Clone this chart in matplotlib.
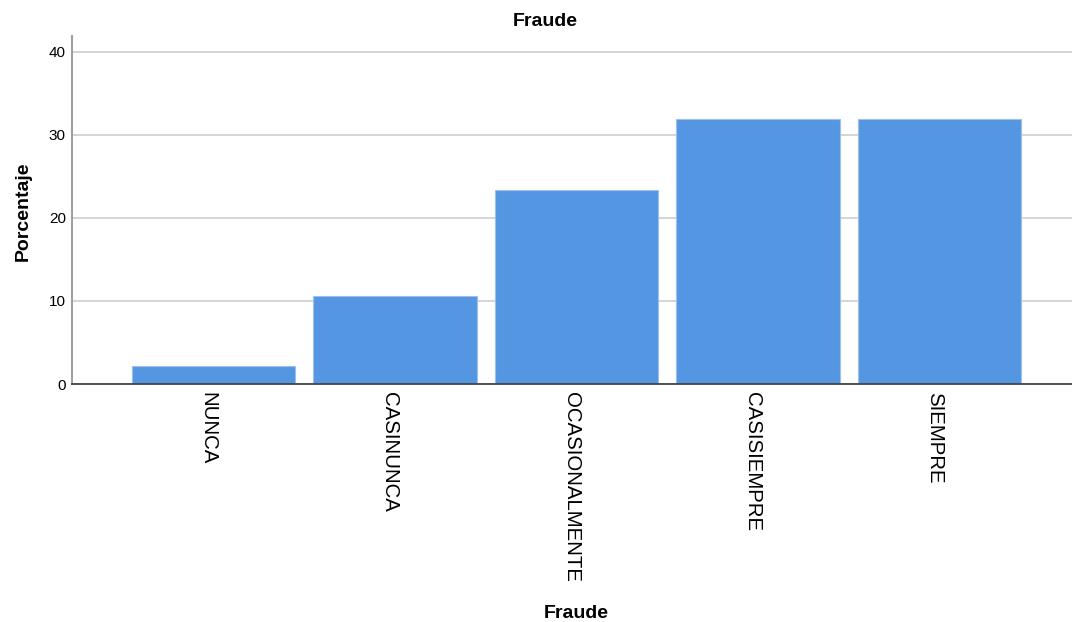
import matplotlib.pyplot as plt
import numpy as np

plt.rcParams['font.family'] = ['Liberation Sans', 'DejaVu Sans']

# Frecuencias de la variable Fraude (n = 47)
categorias = ['NUNCA', 'CASINUNCA', 'OCASIONALMENTE', 'CASISIEMPRE', 'SIEMPRE']
porcentajes = [2.13, 10.64, 23.40, 31.91, 31.91]
yticks = [0, 10, 20, 30, 40]

bar_color = '#5596e3'

fig = plt.figure(figsize=(10.72, 6.22), dpi=100)
ax = fig.add_axes([72 / 1072, 1 - 384 / 622, 1 - 72 / 1072, (384 - 36) / 622])

x = np.arange(len(categorias))
ax.bar(x, porcentajes, width=0.9, color=bar_color, edgecolor='#9cc0ee',
       linewidth=0.8, zorder=3)

ax.set_xlim(-0.78, len(categorias) - 1 + 0.73)
ax.set_ylim(0, 41.9)
ax.set_yticks(yticks)
ax.set_yticklabels([str(t) for t in yticks], fontsize=11)
ax.set_xticks(x - 0.03)
ax.set_xticklabels(categorias, rotation=270, fontsize=14.7,
                   va='top', ha='center')
ax.tick_params(axis='both', length=0, colors='#000000')
ax.tick_params(axis='y', pad=4.5)
ax.tick_params(axis='x', pad=6)

ax.yaxis.grid(True, color='#d4d4d4', linewidth=1.4, zorder=0)
ax.set_axisbelow(True)

for side in ['top', 'right']:
    ax.spines[side].set_visible(False)
ax.spines['left'].set_color('#a0a0a0')
ax.spines['left'].set_linewidth(1.5)
ax.spines['bottom'].set_color('#444444')
ax.spines['bottom'].set_linewidth(1.3)
ax.spines['bottom'].set_zorder(4)

fig.text(545 / 1072, 1 - 21 / 622, 'Fraude', fontsize=14, fontweight='bold',
         ha='center', va='center')
fig.text(576 / 1072, 1 - 613 / 622, 'Fraude', fontsize=14, fontweight='bold',
         ha='center', va='center')
fig.text(23 / 1072, 1 - 211 / 622, 'Porcentaje', fontsize=14,
         fontweight='bold', rotation=90, ha='center', va='center')

fig.savefig('out.png', dpi=100)
